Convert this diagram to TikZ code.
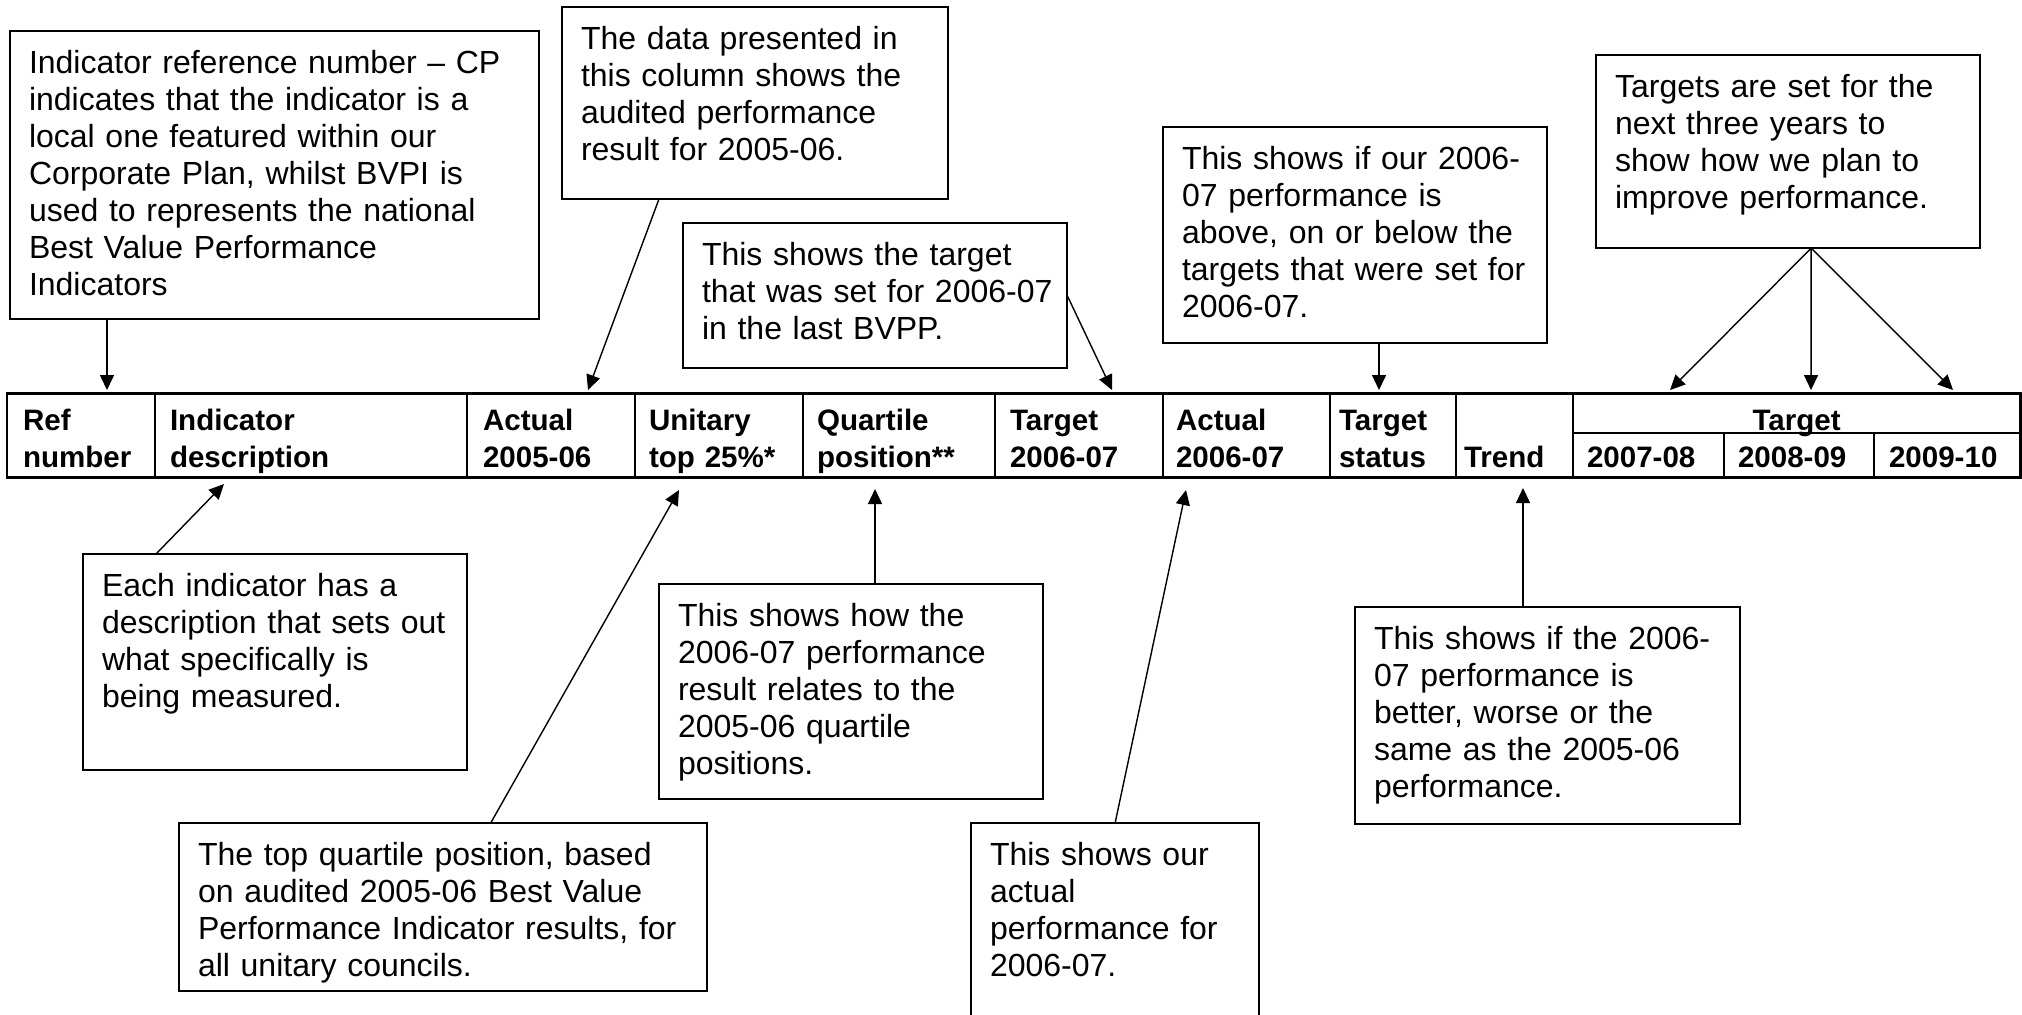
\documentclass[tikz,border=0pt]{standalone}
\usepackage{fontspec}
\setmainfont{Liberation Sans}
\usetikzlibrary{arrows.meta,calc}
\hyphenpenalty=10000
\exhyphenpenalty=10000
\newcommand\cofont{\fontsize{9.1pt}{10.53pt}\selectfont}
\newcommand\tbfont{\fontsize{8.4pt}{10.53pt}\selectfont\bfseries}
\tikzset{
  callout/.style={draw, line width=0.55pt, anchor=north west, outer sep=0pt,
    inner xsep=0.19cm, inner ysep=0pt, align=left, font=\cofont, text height=0.42cm},
  cell/.style={draw, line width=0.55pt, anchor=north west, outer sep=0pt,
    inner ysep=0pt, align=left, font=\tbfont, text height=0.37cm, text depth=0.47cm},
  arr/.style={line width=0.4pt, -{Triangle[length=0.15cm, width=0.14cm]}}
}
\begin{document}
\begin{tikzpicture}[x=0.01cm, y=-0.01cm]
\useasboundingbox (0,0) rectangle (2022,1014);
\fill[white] (0,0) rectangle (2022,1014);
\clip (0,0) rectangle (2022,1014);

% ---------- table ----------
\node[cell, text width=1.16cm, inner xsep=0.16cm] (ref) at (7,393) {Ref\\number};
\node[cell, text width=2.82cm, inner xsep=0.15cm] (desc) at (155,393) {Indicator\\description};
\node[cell, text width=1.36cm, inner xsep=0.16cm] (act5) at (467,393) {Actual\\2005-06};
\node[cell, text width=1.40cm, inner xsep=0.14cm] (unit) at (635,393) {Unitary\\top 25\%*};
\node[cell, text width=1.64cm, inner xsep=0.14cm] (quart) at (803,393) {Quartile\\position**};
\node[cell, text width=1.38cm, inner xsep=0.15cm] (tgt6) at (995,393) {Target\\2006-07};
\node[cell, text width=1.41cm, inner xsep=0.13cm] (act6) at (1163,393) {Actual\\2006-07};
\node[cell, text width=1.08cm, inner xsep=0.09cm] (tstat) at (1330,393) {Target\\status};
\node[cell, text width=1.01cm, inner xsep=0.08cm] (trend) at (1456,393) {\mbox{}\\Trend};
\node[cell, text width=4.27cm, inner xsep=0.10cm, align=center, text depth=0.03cm] (tgtH) at (1573,393) {Target};
\node[cell, text width=1.23cm, inner xsep=0.14cm, text height=0.34cm, text depth=0.10cm] (y78) at (1573,433) {2007-08};
\node[cell, text width=1.22cm, inner xsep=0.14cm, text height=0.34cm, text depth=0.10cm] (y89) at (1724,433) {2008-09};
\node[cell, text width=1.16cm, inner xsep=0.15cm, text height=0.34cm, text depth=0.10cm] (y910) at (1874,433) {2009-10};
\draw[line width=0.85pt] (ref.north west) rectangle (y910.south east);

% ---------- callouts ----------
\node[callout, text width=4.91cm, text depth=2.46cm] (A) at (10,31)
  {Indicator reference number \textendash{} CP\\indicates that the indicator is a\\local one featured within our\\Corporate Plan, whilst BVPI is\\used to represents the national\\Best Value Performance\\Indicators};
\node[callout, text width=3.48cm, text depth=1.50cm] (B) at (562,7)
  {The data presented in\\this column shows the\\audited performance\\result for 2005-06.};
\node[callout, text width=3.46cm, text depth=1.03cm] (C) at (683,223)
  {This shows the target\\that~was~set~for~2006-07\\in the last BVPP.};
\node[callout, text width=3.46cm, text depth=1.74cm] (D) at (1163,127)
  {This shows if our 2006-\\07 performance is\\above, on or below the\\targets that were set for\\2006-07.};
\node[callout, text width=3.46cm, text depth=1.51cm] (E) at (1596,55)
  {Targets are set for the\\next three years to\\show how we plan to\\improve performance.};
\node[callout, text width=3.46cm, text depth=1.74cm] (F) at (83,554)
  {Each indicator has a\\description that sets out\\what specifically is\\being measured.};
\node[callout, text width=4.90cm, text depth=1.26cm] (G) at (179,823)
  {The top quartile position, based\\on audited 2005-06 Best Value\\Performance Indicator results, for\\all unitary councils.};
\node[callout, text width=3.46cm, text depth=1.73cm] (H) at (659,584)
  {This shows how the\\2006-07 performance\\result relates to the\\2005-06 quartile\\positions.};
\node[callout, text width=2.50cm, text depth=1.74cm] (I) at (971,823)
  {This shows our\\actual\\performance for\\2006-07.};
\node[callout, text width=3.47cm, text depth=1.75cm] (J) at (1355,607)
  {This shows if the 2006-\\07 performance is\\better, worse or the\\same as the 2005-06\\performance.};

% ---------- connectors ----------
\coordinate (tA) at (107,390);
\coordinate (tB) at (588,390);
\coordinate (tC) at (1112,390);
\coordinate (tD) at (1379,390);
\coordinate (tE1) at (1670,390);
\coordinate (tE2) at (1811,390);
\coordinate (tE3) at (1953,390);
\coordinate (tF) at (224,484);
\coordinate (tG) at (679,490);
\coordinate (tH) at (875,489);
\coordinate (tI) at (1186,490);
\coordinate (tJ) at (1523,488);
\coordinate (sE) at ($(E.south west)!0.56!(E.south east)$);

\draw[arr] (A.south -| tA) -- (tA);
\draw[arr] ($(B.south west)!0.251!(B.south east)$) -- (tB);
\draw[arr] (C.east) -- (tC);
\draw[arr] (D.south -| tD) -- (tD);
\draw[arr] (sE) -- (tE1);
\draw[arr] (sE) -- (tE2);
\draw[arr] (sE) -- (tE3);
\draw[arr] ($(F.north west)!0.19!(F.north east)$) -- (tF);
\draw[arr] ($(G.north west)!0.59!(G.north east)$) -- (tG);
\draw[arr] (H.north -| tH) -- (tH);
\draw[arr] (I.north) -- (tI);
\draw[arr] (J.north -| tJ) -- (tJ);
\end{tikzpicture}
\end{document}
